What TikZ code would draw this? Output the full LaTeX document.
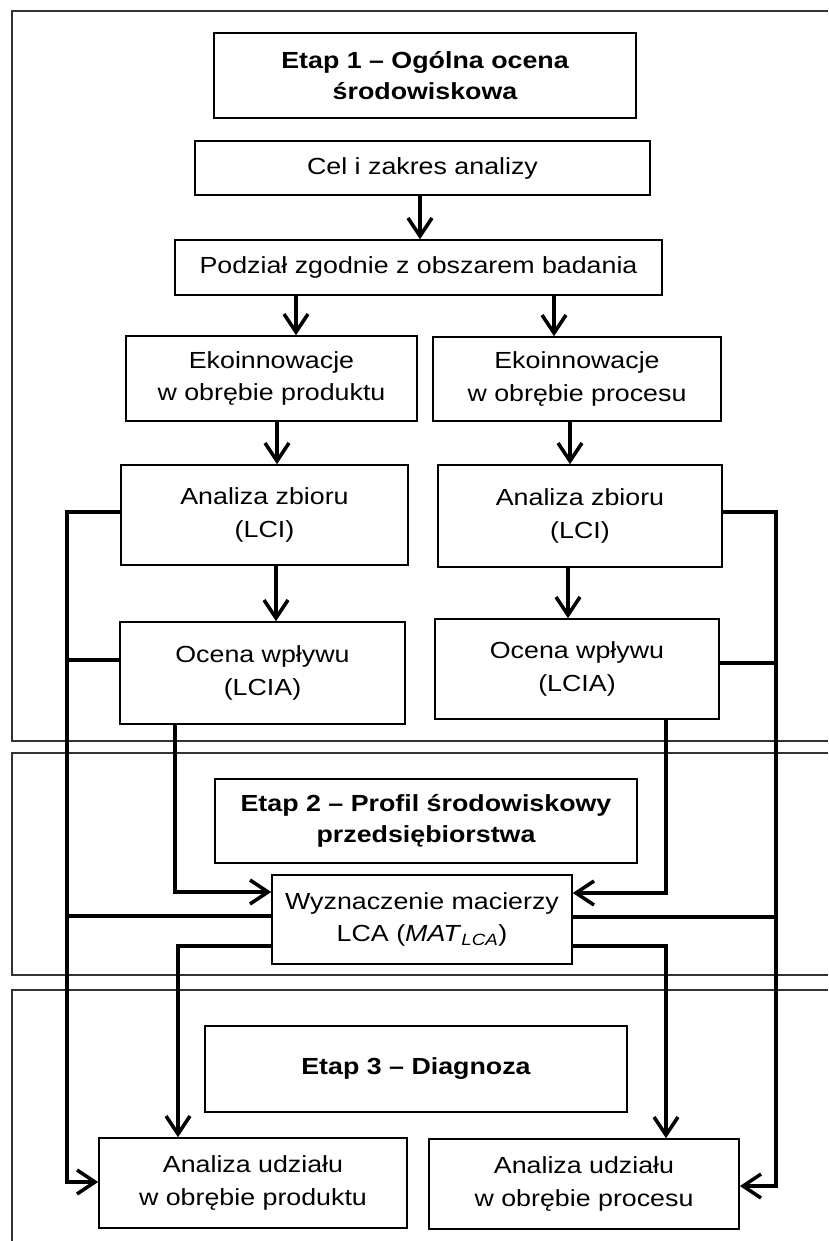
\documentclass[tikz,border=0pt]{standalone}
\usepackage{fontspec}
\setmainfont{Liberation Sans}[FakeStretch=1.15]
\usetikzlibrary{positioning, arrows.meta}

\begin{document}
\begin{tikzpicture}[x=1pt, y=-1pt, >={Straight Barb[length=18pt, width=24pt]},
    block/.style={draw, line width=1.7pt, align=center, inner sep=0pt,
                  font=\fontsize{23.3}{32.5}\selectfont},
    header/.style={block, font=\bfseries\fontsize{23.3}{30.5}\selectfont},
    link/.style={line width=3.5pt},
    stageframe/.style={line width=1.6pt, draw=black!80}]
    \useasboundingbox (0,0) rectangle (828,1241);

    \draw[stageframe] (828,11) -- (12,11) -- (12,741) -- (828,741);
    \draw[stageframe] (828,753) -- (12,753) -- (12,975) -- (828,975);
    \draw[stageframe] (828,990) -- (12,990) -- (12,1241);

    \node[header, minimum width=422pt, minimum height=85pt] (etap1) at (425,75.5) {Etap 1 – Ogólna ocena\\środowiskowa};
    \node[block, minimum width=455pt, minimum height=54pt] (cel) at (422.5,168) {Cel i zakres analizy};
    \node[block, minimum width=487pt, minimum height=55pt] (podzial) at (418.5,267.5) {Podział zgodnie z obszarem badania};
    \node[block, minimum width=291pt, minimum height=85pt] (ekoprod) at (271.5,378.5) {Ekoinnowacje\\w obrębie produktu};
    \node[block, minimum width=288pt, minimum height=84pt] (ekoproc) at (577,379) {Ekoinnowacje\\w obrębie procesu};
    \node[block, minimum width=287pt, minimum height=100pt] (lciprod) at (264.5,515) {Analiza zbioru\\(LCI)};
    \node[block, minimum width=284pt, minimum height=102pt] (lciproc) at (580,516) {Analiza zbioru\\(LCI)};
    \node[block, minimum width=285pt, minimum height=102pt] (lciaprod) at (262.5,673) {Ocena wpływu\\(LCIA)};
    \node[block, minimum width=284pt, minimum height=100pt] (lciaproc) at (577,669) {Ocena wpływu\\(LCIA)};
    \node[header, minimum width=422pt, minimum height=84pt] (etap2) at (426,821) {Etap 2 – Profil środowiskowy\\przedsiębiorstwa};
    \node[block, minimum width=300pt, minimum height=89pt] (macierz) at (422,919.5) {Wyznaczenie macierzy\\LCA (\textit{MAT}\textsubscript{\textit{LCA}})};
    \node[header, minimum width=422pt, minimum height=86pt] (etap3) at (416,1069) {Etap 3 – Diagnoza};
    \node[block, minimum width=308pt, minimum height=90pt] (udzprod) at (253,1183) {Analiza udziału\\w obrębie produktu};
    \node[block, minimum width=310pt, minimum height=90pt] (udzproc) at (584,1184) {Analiza udziału\\w obrębie procesu};

    \draw[link, ->] (420,0 |- cel.south) -- (420,0 |- podzial.north);
    \draw[link, ->] (296,0 |- podzial.south) -- (296,0 |- ekoprod.north);
    \draw[link, ->] (554,0 |- podzial.south) -- (554,0 |- ekoproc.north);
    \draw[link, ->] (277,0 |- ekoprod.south) -- (277,0 |- lciprod.north);
    \draw[link, ->] (570,0 |- ekoproc.south) -- (570,0 |- lciproc.north);
    \draw[link, ->] (276,0 |- lciprod.south) -- (276,0 |- lciaprod.north);
    \draw[link, ->] (568,0 |- lciproc.south) -- (568,0 |- lciaproc.north);

    \draw[link, ->] (lciprod.west |- 0,512) -- (67,512) -- (67,1182) -- (udzprod.west |- 0,1182);
    \draw[link] (lciaprod.west |- 0,660) -- (67,660);
    \draw[link] (macierz.west |- 0,916) -- (67,916);
    \draw[link, ->] (lciproc.east |- 0,512) -- (776,512) -- (776,1186) -- (udzproc.east |- 0,1186);
    \draw[link] (lciaproc.east |- 0,663) -- (776,663);
    \draw[link] (macierz.east |- 0,917) -- (776,917);

    \draw[link, ->] (175,0 |- lciaprod.south) -- (175,892) -- (macierz.west |- 0,892);
    \draw[link, ->] (666,0 |- lciaproc.south) -- (666,893) -- (macierz.east |- 0,893);
    \draw[link, ->] (macierz.west |- 0,946) -- (178,946) -- (178,0 |- udzprod.north);
    \draw[link, ->] (macierz.east |- 0,946) -- (666,946) -- (666,0 |- udzproc.north);
\end{tikzpicture}
\end{document}
